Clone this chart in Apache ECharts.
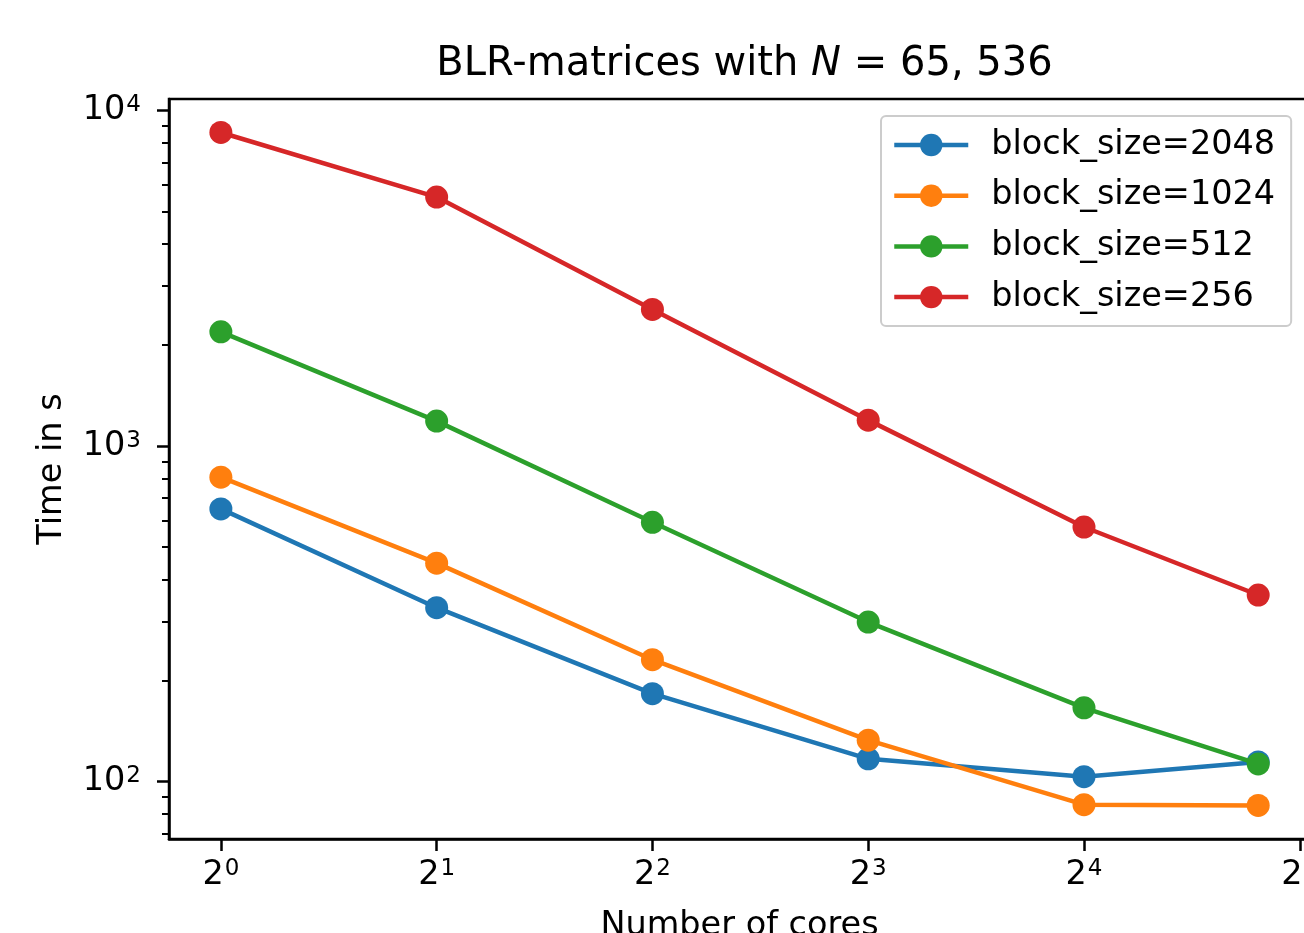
<!DOCTYPE html>
<html><head><meta charset="utf-8">
<script src="https://cdn.jsdelivr.net/npm/echarts@6/dist/echarts.min.js"></script>
<style>html,body{margin:0;padding:0;background:#fff;overflow:hidden}#c{width:1304px;height:933px}</style>
</head><body><div id="c"></div>
<script>
// ---- data ----
const cores = [1, 2, 4, 8, 16, 28];
const seriesNames = ['block_size=2048', 'block_size=1024', 'block_size=512', 'block_size=256'];
const bs2048 = [650, 330, 183, 117, 103.5, 114.5];
const bs1024 = [808, 448, 231, 133, 85.4, 85];
const bs512 = [2190, 1187, 593, 299, 166, 113];
const bs256 = [8600, 5520, 2553, 1195, 574, 360];
const xTicks = [1, 2, 4, 8, 16, 32];
const yTicks = [100, 1000, 10000];
const yMinorTicks = [70, 80, 90, 200, 300, 400, 500, 600, 700, 800, 900,
  2000, 3000, 4000, 5000, 6000, 7000, 8000, 9000];
const titleText = 'BLR-matrices with {i|N} = 65, 536';
const xName = 'Number of cores';
const yName = 'Time in s';

// ---- styling ----
const FONT = 'DejaVu Sans';
const colors = ['#1f77b4', '#ff7f0e', '#2ca02c', '#d62728'];
const allSeries = [bs2048, bs1024, bs512, bs256];

const supRich = {
  b: { fontFamily: FONT, fontSize: 33.5, color: '#000', lineHeight: 34 },
  s: { fontFamily: FONT, fontSize: 23, color: '#000', lineHeight: 14, verticalAlign: 'top', padding: [0, 0, 0, 1] }
};

const chart = echarts.init(document.getElementById('c'), null, { renderer: 'canvas' });
chart.setOption({
  animation: false,
  backgroundColor: '#fff',
  title: {
    text: titleText,
    left: 739.5, top: 40, textAlign: 'center',
    textStyle: {
      fontFamily: FONT, fontSize: 40, fontWeight: 'normal', color: '#000',
      rich: { i: { fontFamily: FONT, fontSize: 40, fontStyle: 'italic', color: '#000' } }
    }
  },
  grid: {
    left: 169, top: 99, right: -6, bottom: 94,
    containLabel: false, outerBoundsMode: 'none',
    show: true, borderColor: '#000', borderWidth: 2.5, backgroundColor: 'transparent'
  },
  legend: {
    orient: 'vertical', left: 881, top: 116,
    padding: [12, 16, 12, 11],
    itemWidth: 74, itemHeight: 28, itemGap: 16.7,
    borderColor: '#cccccc', borderWidth: 2, borderRadius: 5,
    backgroundColor: '#fff',
    lineStyle: { width: 4.5 },
    textStyle: { fontFamily: FONT, fontSize: 33.5, color: '#000', lineHeight: 34, padding: [0, 0, 0, 18] },
    data: seriesNames
  },
  xAxis: {
    type: 'log', logBase: 2,
    min: Math.pow(2, -0.2404), max: Math.pow(2, 5.0474),
    name: xName, nameLocation: 'middle', nameGap: 70,
    nameTextStyle: { fontFamily: FONT, fontSize: 33.5, color: '#000' },
    axisLine: { show: true, lineStyle: { color: '#000', width: 2.5 } },
    axisTick: { show: true, length: 12, lineStyle: { color: '#000', width: 2.5 }, customValues: xTicks },
    axisLabel: {
      customValues: xTicks, margin: 19,
      formatter: v => '{b|2}{s|' + Math.round(Math.log2(v)) + '}',
      rich: supRich
    },
    splitLine: { show: false },
    minorTick: { show: false }
  },
  yAxis: [{
    type: 'log', logBase: 10, min: 67.5, max: 10820, position: 'left',
    name: yName, nameLocation: 'middle', nameGap: 100,
    nameTextStyle: { fontFamily: FONT, fontSize: 33.5, color: '#000' },
    axisLine: { show: true, lineStyle: { color: '#000', width: 2.5 } },
    axisTick: { show: true, length: 12, lineStyle: { color: '#000', width: 2.5 }, customValues: yTicks },
    axisLabel: {
      customValues: yTicks, margin: 28,
      formatter: v => '{b|10}{s|' + Math.round(Math.log10(v)) + '}',
      rich: supRich
    },
    splitLine: { show: false }
  }, {
    type: 'log', logBase: 10, min: 67.5, max: 10820, position: 'left', gridIndex: 0,
    axisLine: { show: false },
    axisTick: { show: true, length: 7, lineStyle: { color: '#000', width: 2 }, customValues: yMinorTicks },
    axisLabel: { show: false },
    splitLine: { show: false }
  }],
  series: allSeries.map((vals, k) => ({
    name: seriesNames[k],
    type: 'line',
    yAxisIndex: 0,
    data: cores.map((c, i) => [c, vals[i]]),
    symbol: 'circle', symbolSize: 23,
    lineStyle: { color: colors[k], width: 4.5 },
    itemStyle: { color: colors[k] },
    emphasis: { disabled: true },
    z: 2 + k
  }))
});
</script>
</body></html>
